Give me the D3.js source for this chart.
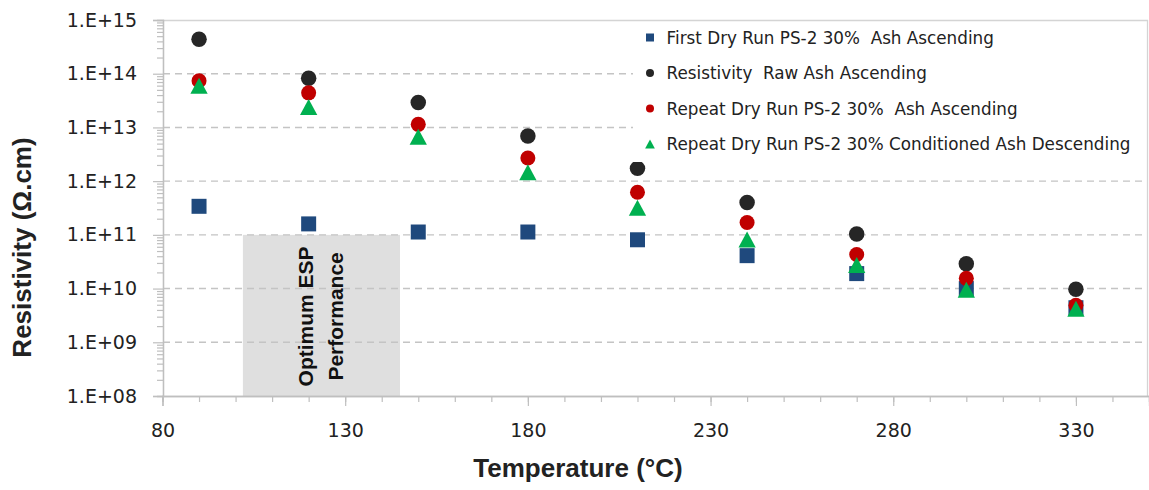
<!DOCTYPE html>
<html>
<head>
<meta charset="utf-8">
<script src="https://cdn.jsdelivr.net/npm/d3@7"></script>
<style>
  html, body { margin: 0; padding: 0; background: #fff; }
  svg { display: block; }
</style>
</head>
<body>
<svg id="chart" width="1149" height="490"></svg>
<script>
// Resistivity of ash samples versus temperature
const temperatures = [90, 120, 150, 180, 210, 240, 270, 300, 330];
const firstDryRun   = [3.4e11, 1.6e11, 1.13e11, 1.13e11, 8.1e10, 4.1e10, 1.9e10, 1.0e10, 4.4e9];
const rawAsh        = [4.4e14, 8.2e13, 2.9e13, 6.9e12, 1.73e12, 4.0e11, 1.04e11, 2.9e10, 9.7e9];
const repeatDryRun  = [7.4e13, 4.4e13, 1.14e13, 2.7e12, 6.2e11, 1.7e11, 4.3e10, 1.55e10, 4.9e9];
const conditioned   = [6.0e13, 2.4e13, 6.7e12, 1.46e12, 3.2e11, 8.2e10, 2.75e10, 9.5e9, 4.2e9];

const seriesNames = [
  "First Dry Run PS-2 30%  Ash Ascending",
  "Resistivity  Raw Ash Ascending",
  "Repeat Dry Run PS-2 30%  Ash Ascending",
  "Repeat Dry Run PS-2 30% Conditioned Ash Descending"
];
const xTickValues = [80, 130, 180, 230, 280, 330];
const yTickExponents = [8, 9, 10, 11, 12, 13, 14, 15];

// Shaded band: optimum ESP operating range
const optimumRange = [102, 145];
const optimumTop = 1e11;
const optimumLines = ["Optimum ESP", "Performance"];

const xDomain = [80, 350];
const yDomain = [1e8, 1e15];

const svg = d3.select("#chart");
const plot = { left: 163, right: 1149, top: 20, bottom: 396 };

const x = d3.scaleLinear().domain(xDomain).range([162.5, plot.right]);
const y = d3.scaleLog().domain(yDomain).range([plot.bottom, plot.top]);

const gridColor = "#c4c4c4";
const axisColor = "#bfbfbf";

// Optimum performance band
svg.append("rect")
  .attr("x", x(optimumRange[0]))
  .attr("y", y(optimumTop))
  .attr("width", x(optimumRange[1]) - x(optimumRange[0]))
  .attr("height", y(yDomain[0]) - y(optimumTop))
  .attr("fill", "#dfdfdf");

// Dashed decade gridlines
const gridValues = yTickExponents.slice(1, -1).map(e => Math.pow(10, e));
svg.append("g").selectAll("line").data(gridValues).join("line")
  .attr("x1", plot.left).attr("x2", plot.right - 1)
  .attr("y1", d => y(d)).attr("y2", d => y(d))
  .attr("stroke", gridColor).attr("stroke-width", 1.4)
  .attr("stroke-dasharray", "7,5");

// Plot frame (top and right)
svg.append("path")
  .attr("d", `M${plot.left},${plot.top + 0.5}H${plot.right - 1.5}V${plot.bottom}`)
  .attr("fill", "none").attr("stroke", "#d4d4d4").attr("stroke-width", 1.3);

// Band label
const bandCx = (x(optimumRange[0]) + x(optimumRange[1])) / 2;
const bandCy = (y(optimumTop) + y(yDomain[0])) / 2 + 1;
const bandText = svg.append("g")
  .attr("transform", `translate(${bandCx},${bandCy}) rotate(-90)`);
optimumLines.forEach((line, i) => {
  bandText.append("text")
    .attr("x", 0).attr("y", -8 + i * 30)
    .attr("text-anchor", "middle")
    .attr("font-family", "Liberation Sans, Arial, sans-serif")
    .attr("font-weight", "bold")
    .attr("font-size", 21)
    .attr("fill", "#111")
    .text(line);
});

// Y axis: decades with labels, minor log ticks
const yMinor = [];
for (let e = 8; e < 15; e++) for (let m = 2; m <= 9; m++) yMinor.push(m * Math.pow(10, e));

const yAxisMinor = svg.append("g")
  .attr("transform", `translate(${plot.left},0)`)
  .call(d3.axisLeft(y).tickValues(yMinor).tickSize(6).tickFormat(""));
const yAxis = svg.append("g")
  .attr("transform", `translate(${plot.left},0)`)
  .call(d3.axisLeft(y)
    .tickValues(yTickExponents.map(e => Math.pow(10, e)))
    .tickSize(10).tickPadding(16)
    .tickFormat(d => "1.E+" + String(Math.round(Math.log10(d))).padStart(2, "0")));
[yAxisMinor, yAxis].forEach(g => {
  g.select(".domain").attr("stroke", axisColor).attr("stroke-width", 1.3);
  g.selectAll(".tick line").attr("stroke", axisColor).attr("stroke-width", 1.2);
});
yAxis.selectAll("text")
  .attr("font-family", "DejaVu Sans, sans-serif")
  .attr("font-size", 19).attr("fill", "#222");

// X axis: major labelled ticks every 50, minor every 10
const xMinor = d3.range(80, 351, 10);
const xAxisMinor = svg.append("g")
  .attr("transform", `translate(0,${plot.bottom})`)
  .call(d3.axisBottom(x).tickValues(xMinor).tickSize(6).tickFormat(""));
const xAxis = svg.append("g")
  .attr("transform", `translate(0,${plot.bottom})`)
  .call(d3.axisBottom(x).tickValues(xTickValues).tickSize(10).tickPadding(18).tickFormat(d3.format("d")));
[xAxisMinor, xAxis].forEach(g => {
  g.select(".domain").attr("stroke", axisColor).attr("stroke-width", 1.3);
  g.selectAll(".tick line").attr("stroke", axisColor).attr("stroke-width", 1.2);
});
xAxis.selectAll("text")
  .attr("font-family", "DejaVu Sans, sans-serif")
  .attr("font-size", 19).attr("fill", "#222");

// Axis titles
svg.append("text")
  .attr("transform", `translate(31,247.5) rotate(-90)`)
  .attr("text-anchor", "middle")
  .attr("font-family", "Liberation Sans, Arial, sans-serif")
  .attr("font-weight", "bold").attr("font-size", 26).attr("fill", "#222")
  .text("Resistivity  (\u03A9.cm)");
svg.append("text")
  .attr("x", 578).attr("y", 477)
  .attr("text-anchor", "middle")
  .attr("font-family", "Liberation Sans, Arial, sans-serif")
  .attr("font-weight", "bold").attr("font-size", 26).attr("fill", "#222")
  .text("Temperature (\u00B0C)");

// Marker shapes
const markers = {
  square: s => `M${-s / 2},${-s / 2}h${s}v${s}h${-s}Z`,
  circle: s => `M${s / 2},0A${s / 2},${s / 2} 0 1 1 ${-s / 2},0A${s / 2},${s / 2} 0 1 1 ${s / 2},0Z`,
  triangle: s => `M0,${-s / 2}L${s * 0.54},${s / 2}L${-s * 0.54},${s / 2}Z`
};

const series = [
  { name: seriesNames[0], values: firstDryRun,  shape: "square",   color: "#1F497D", size: 15 },
  { name: seriesNames[1], values: rawAsh,       shape: "circle",   color: "#262626", size: 15.5 },
  { name: seriesNames[2], values: repeatDryRun, shape: "circle",   color: "#C00000", size: 15 },
  { name: seriesNames[3], values: conditioned,  shape: "triangle", color: "#00B050", size: 16 }
];

series.forEach(s => {
  svg.append("g").selectAll("path")
    .data(temperatures.map((t, i) => ({ t, v: s.values[i] })))
    .join("path")
    .attr("transform", d => `translate(${x(d.t)},${y(d.v)})`)
    .attr("d", markers[s.shape](s.size))
    .attr("fill", s.color);
});

// Legend
const legend = svg.append("g");
legend.append("rect")
  .attr("x", 633).attr("y", 22).attr("width", 512).attr("height", 140)
  .attr("fill", "#fff");
const legendRowY = [37.5, 73, 108.5, 144];
series.forEach((s, i) => {
  const row = legend.append("g").attr("transform", `translate(650,${legendRowY[i]})`);
  row.append("path")
    .attr("d", markers[s.shape](s.shape === "triangle" ? 9 : 8))
    .attr("fill", s.color);
  row.append("text")
    .attr("x", 16.6).attr("y", 0).attr("dy", "0.36em")
    .attr("font-family", "DejaVu Sans, sans-serif")
    .attr("font-size", 16.8).attr("fill", "#222")
    .style("white-space", "pre")
    .text(s.name);
});
</script>
</body>
</html>
